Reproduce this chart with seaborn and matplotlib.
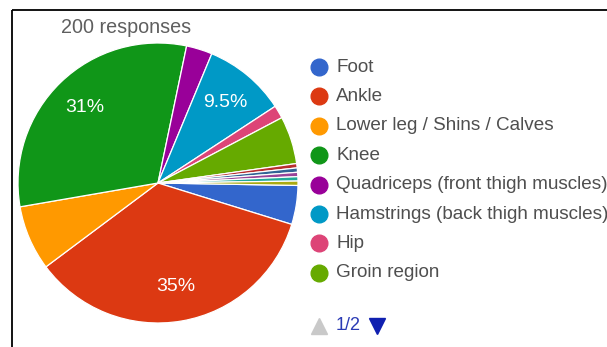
import matplotlib
matplotlib.use("Agg")
import matplotlib.pyplot as plt
import seaborn as sns

# Injury locations shown on the first legend page
categories = ["Foot", "Ankle", "Lower leg / Shins / Calves", "Knee",
              "Quadriceps (front thigh muscles)", "Hamstrings (back thigh muscles)",
              "Hip", "Groin region"]
counts = [9, 70, 15, 62, 6, 19, 3, 11]
colors = ["#3366CC", "#DC3912", "#FF9900", "#109618",
          "#990099", "#0099C6", "#DD4477", "#66AA00"]

# Answers listed on the second legend page (one response each)
more_counts = [1, 1, 1, 1, 1]
more_colors = ["#B82E2E", "#316395", "#994499", "#22AA99", "#AAAA11"]

total_responses = 200
page_label = "1/2"

sns.set_theme(style="white", palette=colors + more_colors)
plt.rcParams["font.family"] = ["Liberation Sans", "DejaVu Sans"]

W, H = 607, 347
fig = plt.figure(figsize=(W / 100, H / 100), dpi=100)
fig.patch.set_facecolor("white")

# Pie axes: 280 px square
cx, cy, r = 158, 183, 140
ax = fig.add_axes([(cx - r) / W, (H - cy - r) / H, 2 * r / W, 2 * r / H])


def pct_label(p):
    return f"{round(p, 1):g}%" if p >= 9 else ""


values = counts + more_counts
ax.pie(values, colors=colors + more_colors, startangle=-1, counterclock=False,
       autopct=pct_label, pctdistance=0.75,
       wedgeprops=dict(edgecolor="white", linewidth=0.9),
       textprops=dict(color="white", fontsize=14))
ax.set_xlim(-1.0, 1.0)
ax.set_ylim(-1.0, 1.0)
ax.set_aspect("equal")
ax.axis("off")

# Overlay in pixel units for the frame, title and legend
ov = fig.add_axes([0, 0, 1, 1], facecolor="none")
ov.set_xlim(0, W)
ov.set_ylim(H, 0)
ov.axis("off")

ov.plot([12, W], [10, 10], color="black", lw=1.3, solid_capstyle="butt")
ov.plot([12, 12], [10, H], color="black", lw=1.3, solid_capstyle="butt")

ov.text(61, 27, f"{total_responses} responses", color="#5f5f5f",
        fontsize=14.2, va="center", ha="left")

row0, step = 67, 29.4
for i, (name, col) in enumerate(zip(categories, colors)):
    y = row0 + i * step
    ov.plot(319, y, marker="o", ms=12, color=col, mec=col, ls="none")
    ov.text(336, y, name, color="#4f4f4f", fontsize=13.6, va="center",
            ha="left", clip_on=False)

# Page navigation
ov.plot(319, 326, marker="^", ms=12, color="#c9c9c9", ls="none")
ov.text(336, 326, page_label, color="#2b3bb5", fontsize=13, va="center", ha="left")
ov.plot(377, 326, marker="v", ms=12, color="#1020b0", ls="none")

fig.savefig("out.png", dpi=100, facecolor="white")
